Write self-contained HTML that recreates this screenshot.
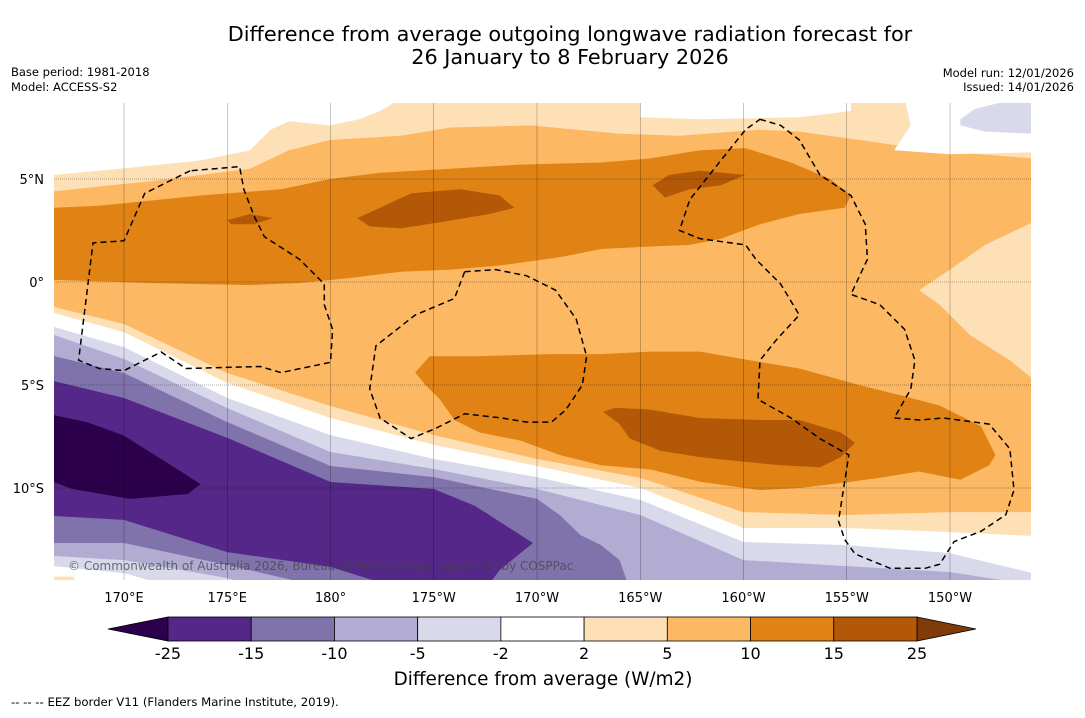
<!DOCTYPE html>
<html><head><meta charset="utf-8">
<style>
body{margin:0;background:#fff;width:1085px;height:713px;overflow:hidden;font-family:"Liberation Sans","DejaVu Sans",sans-serif;}
svg text{font-family:"DejaVu Sans","Liberation Sans",sans-serif;}
</style></head>
<body>
<svg id="chart" width="1085" height="713" viewBox="0 0 1085 713" xmlns="http://www.w3.org/2000/svg">
<text x="570" y="41" font-size="20.8" text-anchor="middle">Difference from average outgoing longwave radiation forecast for</text>
<text x="570" y="64" font-size="20.8" text-anchor="middle">26 January to 8 February 2026</text>
<text x="11" y="76" font-size="11.5">Base period: 1981-2018</text>
<text x="11" y="91" font-size="11.5">Model: ACCESS-S2</text>
<text x="1074" y="77" font-size="11.5" text-anchor="end">Model run: 12/01/2026</text>
<text x="1074" y="91" font-size="11.5" text-anchor="end">Issued: 14/01/2026</text>
<defs><clipPath id="mapclip"><rect x="54" y="103" width="977" height="477"/></clipPath></defs>
<g id="map" clip-path="url(#mapclip)"></g>
<g id="axes"></g>
<g id="cbar"></g>
<text x="543" y="685" font-size="18.4" text-anchor="middle">Difference from average (W/m2)</text>
<text x="11" y="706" font-size="11.7">--  --  -- EEZ border V11 (Flanders Marine Institute, 2019).</text>
</svg>
<script>
const NS="http://www.w3.org/2000/svg";
// colorbar data
const levels=[-25,-15,-10,-5,-2,2,5,10,15,25];
const levelColors=["#542788","#8073ac","#b2abd2","#d8daeb","#ffffff","#fee0b6","#fdb863","#e08214","#b35806"];
const underColor="#2d004b", overColor="#7f3b08";
const lonTicks=[170,175,180,185,190,195,200,205,210];
const lonTickLabels=["170°E","175°E","180°","175°W","170°W","165°W","160°W","155°W","150°W"];
const latTicks=[5,0,-5,-10];
const latTickLabels=["5°N","0°","5°S","10°S"];
// southern contour boundaries: latitude at each grid longitude
const gridLons=[166.6,170,175,180,185,190,195,200,205,210,214];
const b1Lats=[-1.21,-2.04,-4.42,-6.02,-7.43,-8.59,-9.51,-11.17,-11.31,-11.17,-11.17];
const b2Lats=[-1.50,-2.43,-4.90,-6.60,-7.91,-8.93,-10.0,-11.94,-11.94,-12.14,-12.33];
const b3Lats=[-2.18,-3.16,-5.63,-7.43,-8.59,-9.47,-10.58,-12.62,-12.77,-13.16,-14.13];
const b4Lats=[-2.57,-3.74,-6.12,-8.25,-9.08,-10.05,-11.31,-13.50,-13.79,-14.08,-14.71];
const b5Pts=[[166.6,-3.59],[170,-4.42],[175,-6.80],[180,-8.93],[185,-9.47],[190,-10.53],[191.1,-11.31],[192.1,-12.28],[193.1,-12.77],[194.0,-13.5],[194.5,-14.95],[214,-15]];
const darkPurplePts=[[166.6,-4.81],[170,-5.63],[175,-7.57],[180,-9.71],[185,-10.05],[187.0,-10.87],[189.8,-12.67],[188.2,-13.98],[187.5,-14.9],[183.4,-14.9],[180,-13.83],[175,-13.11],[170,-11.55],[166.6,-11.36]];
const darkestPts=[[166.6,-6.46],[168.2,-6.80],[169.95,-7.43],[171.8,-8.59],[173.1,-9.42],[173.7,-9.81],[173.1,-10.29],[170.3,-10.53],[167.5,-10.05],[166.6,-9.71]];
const swLightPurple=[[166.6,-12.67],[170,-12.67],[175,-13.74],[180,-14.9],[166.6,-14.9]];
const swLavender=[[166.6,-13.3],[170,-13.5],[175,-14.37],[176.6,-14.9],[166.6,-14.9]];
const swWhite=[[166.6,-13.79],[170,-14.13],[172.7,-14.9],[166.6,-14.9]];
const swPeach=[[166.6,-14.3],[167.6,-14.3],[167.6,-14.9],[166.6,-14.9]];
// northern contours
const nwWhite=[[166.6,8.9],[166.6,5.2],[168.8,5.4],[173.7,5.9],[176.1,6.4],[177.1,7.4],[178.0,7.8],[180,7.6],[181.4,7.9],[182.4,8.3],[183.4,8.9]];
const nMidWhite=[[195.0,8.9],[195.0,8.0],[197.9,7.9],[202.7,8.0],[205.2,8.3],[205.2,8.9]];
const neWhite=[[207.3,6.4],[208.1,7.6],[207.8,8.9],[214,8.9],[214,6.3],[210,6.2]];
const neLavender=[[210.5,7.9],[211.2,8.4],[212.4,8.7],[214,8.7],[214,7.2],[211.7,7.3],[210.5,7.6]];
const nPeachTop=[[166.6,4.4],[171.3,4.9],[176.1,5.5],[178.0,6.4],[180,6.9],[183.4,7.1],[185.8,7.5],[189.7,7.6],[194.0,7.2],[196.9,7.1],[200.8,7.4],[202.7,7.3],[205.6,6.9],[209.0,6.4],[214,6.0],[214,9],[166.6,9]];
const nDarkOrange=[[166.6,3.6],[168.8,3.7],[173.7,4.2],[177.6,4.5],[180,5.0],[182.4,5.3],[185.8,5.5],[189.2,5.7],[193.1,5.8],[195.5,6.0],[197.9,6.4],[200.1,6.5],[202.3,5.8],[204.2,5.0],[205.2,4.2],[204.9,3.6],[202.7,3.3],[200.8,2.8],[198.9,2.1],[197.4,1.8],[195.0,1.7],[193.1,1.6],[191.1,1.2],[188.2,0.8],[185.8,0.6],[183.4,0.5],[181.0,0.2],[178.5,-0.05],[176.1,-0.15],[171.3,-0.05],[166.6,0.1]];
const nBrown1=[[181.3,3.1],[182.4,3.6],[183.9,4.3],[186.3,4.5],[188.2,4.2],[188.9,3.6],[187.7,3.3],[185.3,2.9],[183.4,2.6],[181.9,2.7]];
const nBrown2=[[195.6,4.7],[196.4,5.2],[197.9,5.4],[200.1,5.2],[198.9,4.7],[197.4,4.5],[196.2,4.1]];
const nBrown3=[[175.0,3.0],[176.1,3.3],[177.2,3.1],[176.3,2.8],[175.2,2.8]];
const ePeach=[[208.5,-0.4],[210,0.6],[211.7,1.8],[214,2.9],[214,-4.7],[212.9,-3.8],[211.0,-2.6],[209.5,-1.1]];
const sDarkOrange=[[184.1,-4.4],[184.8,-3.6],[187.2,-3.6],[190.6,-3.5],[193.1,-3.5],[195.5,-3.38],[197.9,-3.38],[200.3,-3.8],[202.7,-4.2],[205.6,-5.0],[207.6,-5.5],[209.5,-6.0],[211.5,-7.0],[212.2,-8.4],[211.9,-8.9],[210.5,-9.6],[208.5,-9.2],[206.6,-9.5],[205.2,-9.7],[202.7,-10.0],[200.8,-10.1],[197.9,-9.7],[195.5,-9.1],[193.1,-8.9],[191.1,-8.4],[189.2,-7.7],[187.2,-7.3],[186.0,-6.7],[185.3,-5.7],[184.6,-5.0]];
const sBrown=[[193.2,-6.3],[193.8,-6.1],[195.5,-6.2],[197.9,-6.6],[200.8,-6.7],[202.7,-6.7],[204.7,-7.3],[205.4,-7.8],[204.7,-8.5],[203.7,-9.0],[201.8,-8.9],[199.8,-8.7],[197.9,-8.5],[196.0,-8.2],[194.5,-7.6],[194.0,-6.9]];
// EEZ borders
const eezWest=[[173.2,5.4],[171.0,4.3],[170.0,2.0],[168.5,1.9],[167.8,-3.8],[168.8,-4.2],[170.0,-4.3],[171.8,-3.4],[173.0,-4.2],[176.6,-4.1],[177.6,-4.4],[180,-3.9],[180.1,-2.3],[179.7,-1.1],[179.7,-0.1],[178.5,1.1],[176.8,2.2],[176.3,3.2],[175.8,4.5],[175.6,5.6],[173.2,5.4]];
const eezPhoenix=[[186.5,0.5],[188.0,0.6],[189.5,0.3],[190.9,-0.4],[191.9,-1.8],[192.4,-3.6],[192.2,-5.0],[191.4,-6.2],[190.7,-6.8],[189.5,-6.8],[188.3,-6.6],[186.5,-6.4],[185.1,-7.1],[183.9,-7.6],[182.4,-6.6],[181.9,-5.2],[182.2,-3.1],[184.1,-1.6],[186.0,-0.8],[186.5,0.5]];
const eezLine=[[200.8,7.9],[201.8,7.6],[202.7,6.9],[203.7,5.2],[205.2,4.2],[205.9,2.8],[206.0,1.1],[205.2,-0.6],[206.6,-1.1],[207.8,-2.3],[208.3,-3.8],[208.1,-5.2],[207.3,-6.6],[208.5,-6.7],[209.7,-6.6],[211.9,-6.9],[212.9,-8.1],[213.1,-10.1],[212.7,-11.3],[211.5,-12.1],[210.2,-12.6],[209.5,-13.7],[208.8,-13.9],[207.1,-13.9],[205.4,-13.2],[204.9,-12.5],[204.6,-11.6],[205.1,-8.4],[203.7,-7.6],[202.3,-6.6],[200.7,-5.7],[200.8,-3.8],[201.6,-2.8],[202.7,-1.6],[201.8,-0.1],[200.6,1.1],[200.1,1.8],[197.9,2.1],[196.9,2.5],[197.4,4.0],[198.9,5.9],[200.1,7.4],[200.8,7.9]];

const X=lon=>124+(lon-170)*20.65;
const Y=lat=>282-lat*20.6;
const map=document.getElementById('map');
function poly(pts,fill,name,extra){
  const p=document.createElementNS(NS,'polygon');
  p.setAttribute('points',pts.map(q=>X(q[0]).toFixed(1)+','+Y(q[1]).toFixed(1)).join(' '));
  p.setAttribute('fill',fill);
  if(extra)for(const k in extra)p.setAttribute(k,extra[k]);
  
  
  map.appendChild(p);return p;
}
function south(lats){const pts=gridLons.map((l,i)=>[l,lats[i]]);pts.push([214,-16],[166,-16]);return pts;}
const C=levelColors;
const bg=document.createElementNS(NS,'rect');
bg.setAttribute('x',54);bg.setAttribute('y',103);bg.setAttribute('width',977);bg.setAttribute('height',477);bg.setAttribute('fill',C[6]);


map.appendChild(bg);
poly(nPeachTop,C[5],'contour-north-2-5');
poly(nwWhite,C[4],'contour-nw-neutral');
poly(nMidWhite,C[4],'contour-n-neutral');
poly(neWhite,C[4],'contour-ne-neutral');
poly(neLavender,C[3],'contour-ne-negative');
poly(ePeach,C[5],'contour-east-2-5');
poly(nDarkOrange,C[7],'contour-north-10-15');
poly(nBrown1,C[8],'contour-north-15-25-a');
poly(nBrown2,C[8],'contour-north-15-25-b');
poly(nBrown3,C[8],'contour-north-15-25-c');
poly(sDarkOrange,C[7],'contour-south-10-15');
poly(sBrown,C[8],'contour-south-15-25');
poly(south(b1Lats),C[5],'contour-south-2-5');
poly(south(b2Lats),C[4],'contour-south-neutral');
poly(south(b3Lats),C[3],'contour-south-minus2-5');
poly(south(b4Lats),C[2],'contour-south-minus5-10');
const b5=b5Pts.slice();b5.push([214,-16],[166,-16]);
poly(b5,C[1],'contour-south-minus10-15');
poly(swLightPurple,C[2],'contour-sw-minus5-10');
poly(swLavender,C[3],'contour-sw-minus2-5');
poly(swWhite,C[4],'contour-sw-neutral');
poly(swPeach,C[5],'contour-sw-2-5');
poly(darkPurplePts,C[0],'contour-minus15-25');
poly(darkestPts,underColor,'contour-below-minus25');
// gridlines
lonTicks.forEach(l=>{const ln=document.createElementNS(NS,'line');ln.setAttribute('x1',X(l));ln.setAttribute('x2',X(l));ln.setAttribute('y1',103);ln.setAttribute('y2',580);ln.setAttribute('stroke','#000');ln.setAttribute('stroke-width','0.5');ln.setAttribute('stroke-opacity','0.45');


map.appendChild(ln);});
latTicks.forEach(l=>{const ln=document.createElementNS(NS,'line');ln.setAttribute('x1',54);ln.setAttribute('x2',1031);ln.setAttribute('y1',Y(l));ln.setAttribute('y2',Y(l));ln.setAttribute('stroke','#000');ln.setAttribute('stroke-width','0.6');ln.setAttribute('stroke-dasharray','1 1');ln.setAttribute('stroke-opacity','0.6');


map.appendChild(ln);});
[eezWest,eezPhoenix,eezLine].forEach((e,i)=>{const p=poly(e,'none','eez-border',{stroke:'#000','stroke-width':'1.5','stroke-dasharray':'6 4'});});
const cp=document.createElementNS(NS,'text');cp.setAttribute('x',68);cp.setAttribute('y',570);cp.setAttribute('font-size','12');cp.setAttribute('fill','#444');cp.setAttribute('fill-opacity','0.75');cp.textContent='© Commonwealth of Australia 2026, Bureau of Meteorology, supported by COSPPac';


map.appendChild(cp);
// axes labels
const axes=document.getElementById('axes');
lonTicks.forEach((l,i)=>{const t=document.createElementNS(NS,'text');t.setAttribute('x',X(l));t.setAttribute('y',602);t.setAttribute('font-size','13');t.setAttribute('text-anchor','middle');t.textContent=lonTickLabels[i];


axes.appendChild(t);});
latTicks.forEach((l,i)=>{const t=document.createElementNS(NS,'text');t.setAttribute('x',44);t.setAttribute('y',Y(l)+5);t.setAttribute('font-size','13');t.setAttribute('text-anchor','end');t.textContent=latTickLabels[i];


axes.appendChild(t);});
// colorbar
const cb=document.getElementById('cbar');
const cx0=168,cx1=917,cy=617,ch=24,bw=(cx1-cx0)/levelColors.length;
function tri(pts,fill){const p=document.createElementNS(NS,'polygon');p.setAttribute('points',pts);p.setAttribute('fill',fill);p.setAttribute('stroke','#000');p.setAttribute('stroke-width','0.8');


cb.appendChild(p);}
tri(`${cx0},${cy} 108,${cy+ch/2} ${cx0},${cy+ch}`,underColor);
tri(`${cx1},${cy} 976,${cy+ch/2} ${cx1},${cy+ch}`,overColor);
levelColors.forEach((c,i)=>{const r=document.createElementNS(NS,'rect');r.setAttribute('x',cx0+i*bw);r.setAttribute('y',cy);r.setAttribute('width',bw);r.setAttribute('height',ch);r.setAttribute('fill',c);r.setAttribute('stroke','#000');r.setAttribute('stroke-width','0.8');


cb.appendChild(r);});
levels.forEach((v,i)=>{const t=document.createElementNS(NS,'text');t.setAttribute('x',cx0+i*bw);t.setAttribute('y',659);t.setAttribute('font-size','16');t.setAttribute('text-anchor','middle');t.textContent=v;


cb.appendChild(t);});
</script>
</body></html>
